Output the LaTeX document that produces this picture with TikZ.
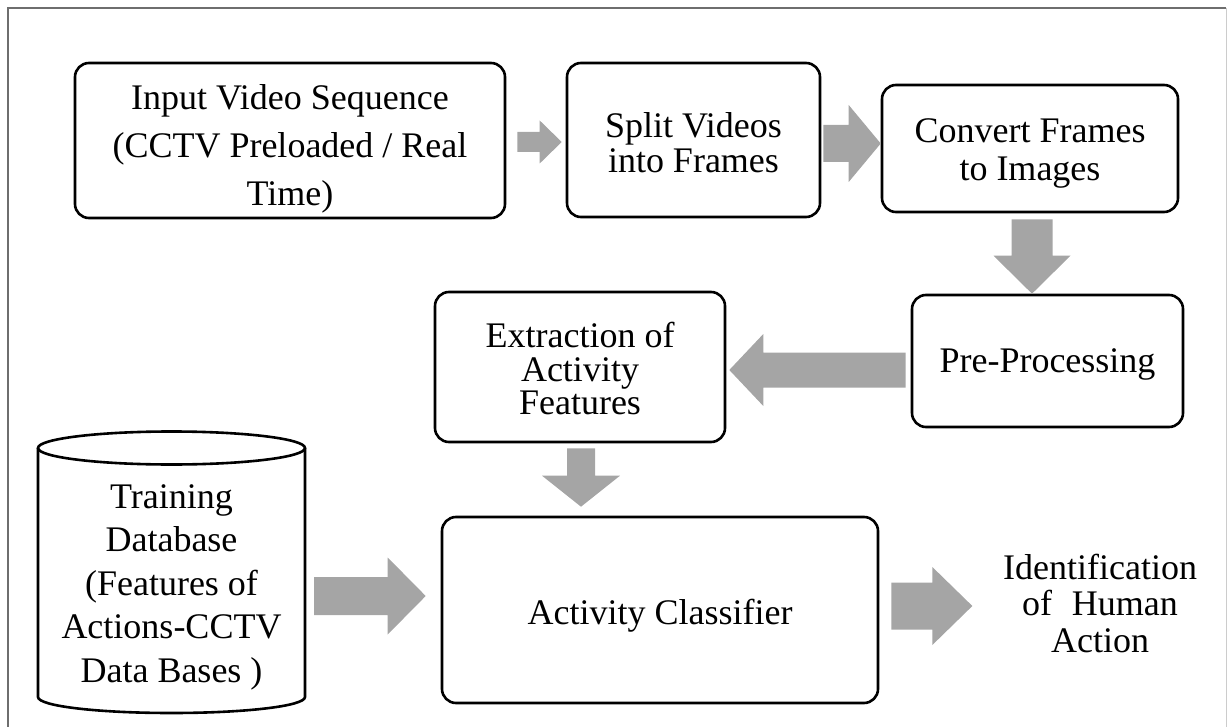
\documentclass[tikz,border=0pt]{standalone}
\usepackage{fontspec}
\setmainfont{Liberation Serif}
\usetikzlibrary{calc}

\definecolor{arrowgray}{HTML}{A5A5A5}
\definecolor{framegray}{HTML}{6E6E6E}

\tikzset{
  stepbox/.style={draw=black, line width=2.6pt, rounded corners=14pt,
    inner sep=0pt},
  plain/.style={align=center, inner sep=0pt},
}

% block arrow from tail #1 to tip #2: half shaft #3, half head #4, head length #5 (pt)
\newcommand\blockarrow[5]{%
  \coordinate (hb) at ($(#2)!#5pt!(#1)$);
  \fill[arrowgray] ($(#1)!#3pt!90:(#2)$) -- ($(hb)!#3pt!-90:(#1)$)
    -- ($(hb)!#4pt!-90:(#1)$) -- (#2) -- ($(hb)!#4pt!90:(#1)$)
    -- ($(hb)!#3pt!90:(#1)$) -- ($(#1)!#3pt!-90:(#2)$) -- cycle;
}

\begin{document}
\begin{tikzpicture}[x=1pt,y=-1pt]
\useasboundingbox (0,0) rectangle (1228,727);

% outer frame
\draw[framegray, line width=1.5pt] (8,740) -- (8,8) -- (1226,8);
\draw[framegray!35, line width=1pt] (1226,8) -- (1226,740);

% process boxes
\node[stepbox, minimum width=430pt, minimum height=155pt] (in) at (290,140.5) {};
\node[stepbox, minimum width=253pt, minimum height=154pt] (split) at (693.5,140) {};
\node[stepbox, minimum width=296pt, minimum height=127pt] (convert) at (1030,148.5) {};
\node[stepbox, minimum width=271pt, minimum height=132pt] (pre) at (1047.5,361) {};
\node[stepbox, minimum width=290pt, minimum height=150pt] (ext) at (580,367) {};
\node[stepbox, minimum width=436pt, minimum height=186pt] (cls) at (660,610) {};

% box texts
\node[plain, font=\fontsize{36}{48}\selectfont] (intxt) at ($(in.center)+(0,8)$)
  {Input Video Sequence\\(CCTV Preloaded / Real\\Time)};
\node[plain, font=\fontsize{36}{35}\selectfont] (splittxt) at ($(split.center)+(0,3)$)
  {Split Videos\\into Frames};
\node[plain, font=\fontsize{36}{38}\selectfont] (converttxt) at ($(convert.center)+(0,4.5)$)
  {Convert Frames\\to Images};
\node[plain, font=\fontsize{36}{43}\selectfont] (pretxt) at ($(pre.center)+(0,3)$)
  {Pre-Processing};
\node[plain, font=\fontsize{36}{33.5}\selectfont] (exttxt) at ($(ext.center)+(0,1.5)$)
  {Extraction of\\Activity\\Features};
\node[plain, font=\fontsize{36}{43}\selectfont] (clstxt) at ($(cls.center)+(0,6)$)
  {Activity Classifier};

% training database cylinder
\node[plain, minimum width=267pt, minimum height=281pt] (db) at (171.5,572.5) {};
\draw[line width=2.6pt] (171.5,448) ellipse [x radius=133.5, y radius=16.5];
\draw[line width=2.6pt, line join=round] (38,448) -- (38,697)
  .. controls (38,706.1) and (97.8,713) .. (171.5,713)
  .. controls (245.2,713) and (305,706.1) .. (305,697) -- (305,448);
\node[plain, font=\fontsize{36}{43.5}\selectfont] (dbtext) at (171.5,587)
  {Training\\Database\\(Features of\\Actions-CCTV\\Data Bases )};

% result
\node[plain, font=\fontsize{36}{36.5}\selectfont] (ident) at (1100,603)
  {Identification\\of\hspace{0.3em} Human\\Action};

% arrow end points
\coordinate (a1t) at ($(in.east)+(11,1.5)$);
\coordinate (a1h) at ($(split.west)+(-4,2)$);
\coordinate (a2t) at ($(split.east)+(2,3.5)$);
\coordinate (a2h) at ($(convert.west)+(0,-5)$);
\coordinate (a3t) at ($(convert.south)+(2,6)$);
\coordinate (a3h) at ($(pre.north)+(-15.5,0)$);
\coordinate (a4t) at ($(pre.west)+(-5,9)$);
\coordinate (a4h) at ($(ext.east)+(3,3)$);
\coordinate (a5t) at ($(ext.south)+(1,5)$);
\coordinate (a5h) at ($(cls.north)+(-79,-9)$);
\coordinate (a6t) at ($(db.east)+(9,23.5)$);
\coordinate (a6h) at ($(cls.west)+(-15,-14)$);
\coordinate (a7t) at ($(cls.east)+(12,-4)$);
\coordinate (a7h) at ($(ident.west)+(-30.5,3)$);

% block arrows
\blockarrow{a1t}{a1h}{10}{21.5}{22}
\blockarrow{a2t}{a2h}{18.5}{38.5}{32}
\blockarrow{a3t}{a3h}{20.5}{38.5}{38}
\blockarrow{a4t}{a4h}{17.5}{36}{34}
\blockarrow{a5t}{a5h}{14}{39}{31}
\blockarrow{a6t}{a6h}{19}{38.5}{38}
\blockarrow{a7t}{a7h}{23.5}{39}{40}
\end{tikzpicture}
\end{document}
